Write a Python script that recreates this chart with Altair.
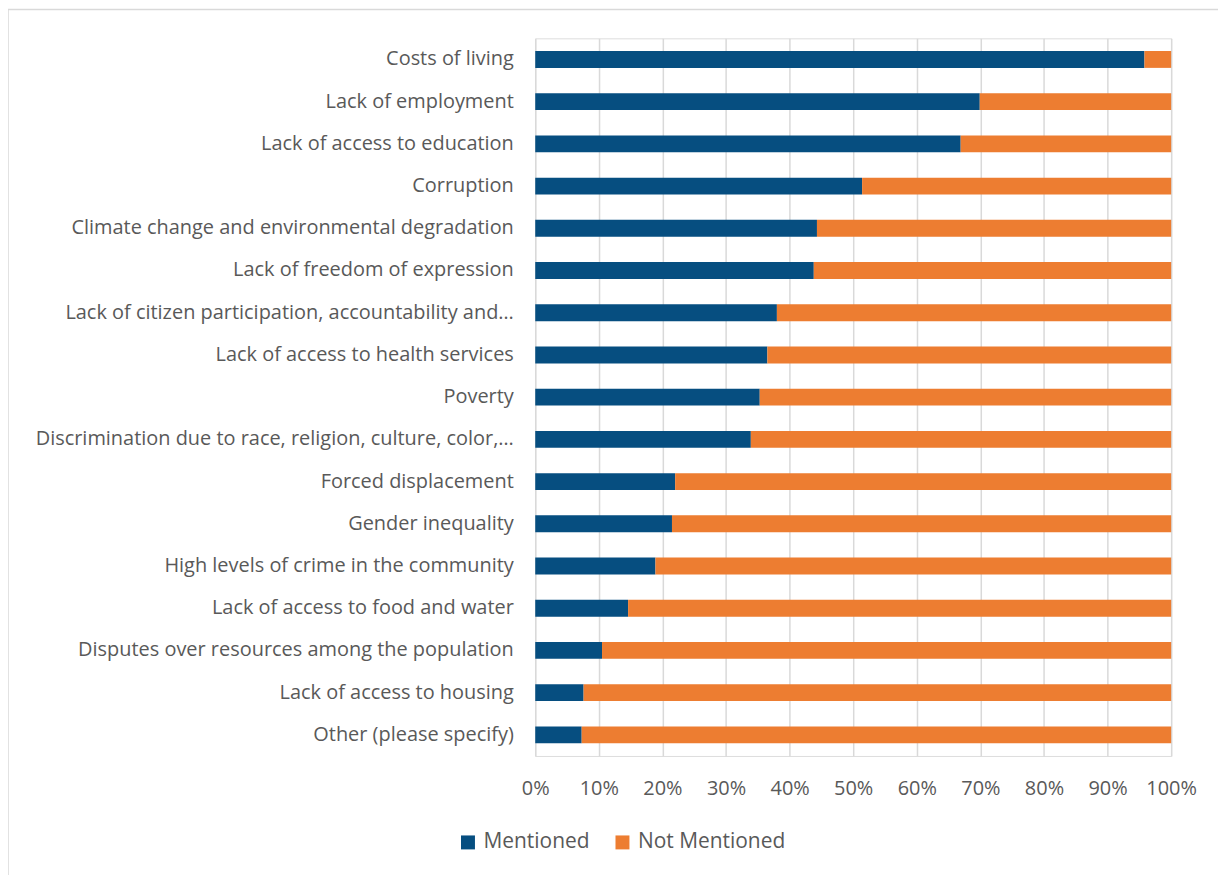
import altair as alt
import pandas as pd

categories = [
    "Costs of living",
    "Lack of employment",
    "Lack of access to education",
    "Corruption",
    "Climate change and environmental degradation",
    "Lack of freedom of expression",
    "Lack of citizen participation, accountability and…",
    "Lack of access to health services",
    "Poverty",
    "Discrimination due to race, religion, culture, color,…",
    "Forced displacement",
    "Gender inequality\u00a0",
    "High levels of crime in the community",
    "Lack of access to food and water",
    "Disputes over resources among the population",
    "Lack of access to housing",
    "Other (please specify)\u00a0",
]
mentioned = [95.8, 69.9, 66.9, 51.4, 44.3, 43.8, 38.0, 36.5, 35.3, 33.9,
             22.0, 21.5, 18.9, 14.6, 10.5, 7.6, 7.3]
series = ["Mentioned", "Not Mentioned"]
colors = ["#064E80", "#ED7D31"]

rows = []
for c, m in zip(categories, mentioned):
    rows.append({"cat": c, "series": "Mentioned", "v": m / 100, "ord": 0})
    rows.append({"cat": c, "series": "Not Mentioned", "v": (100 - m) / 100, "ord": 1})
df = pd.DataFrame(rows)

FONT = "Open Sans"
TXT = "#595959"

bars = alt.Chart(df).mark_bar().encode(
    y=alt.Y("cat:N", sort=categories, title=None,
            scale=alt.Scale(paddingInner=0.6, paddingOuter=0.3),
            axis=alt.Axis(labelFont=FONT, labelFontSize=20, labelColor=TXT,
                          labelPadding=22, ticks=False, domain=False,
                          labelLimit=600, grid=False)),
    x=alt.X("v:Q", stack="zero", title=None,
            scale=alt.Scale(domain=[0, 1], nice=False),
            axis=alt.Axis(format=".0%", values=[i / 10 for i in range(11)],
                          labelFont=FONT, labelFontSize=20, labelColor=TXT,
                          labelPadding=23, ticks=False, domain=False,
                          labelOverlap=False, labelFlush=False,
                          grid=True, gridColor="#D9D9D9", gridWidth=1.5)),
    color=alt.Color("series:N", scale=alt.Scale(domain=series, range=colors),
                    legend=alt.Legend(title=None, orient="none", direction="horizontal",
                                      legendX=-78, legendY=796,
                                      symbolType="square", symbolSize=196,
                                      symbolStrokeWidth=0,
                                      labelFont=FONT, labelFontSize=21,
                                      labelColor=TXT, columnPadding=22,
                                      labelOffset=5)),
    order=alt.Order("ord:Q"),
)

frame = alt.Chart(pd.DataFrame({"a": [0]})).mark_rect(
    fill="transparent", stroke="#D9D9D9", strokeWidth=1.5
).encode(
    x=alt.value(-529), x2=alt.value(720), y=alt.value(-29), y2=alt.value(900)
)

chart = alt.layer(frame, bars).properties(
    width=638, height=720,
    autosize=alt.AutoSizeParams(type="none"),
    padding={"left": 529, "top": 29, "right": 47, "bottom": 118},
).configure_view(stroke=None).configure(background="white")

chart.save("out.html", embed_options={"renderer": "svg", "actions": False})
